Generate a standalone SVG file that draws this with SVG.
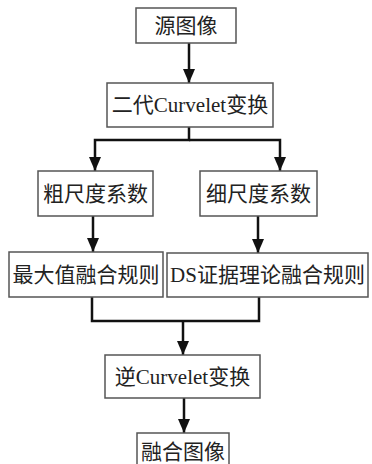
<svg xmlns="http://www.w3.org/2000/svg" width="372" height="464" viewBox="0 0 372 464">
<defs>
<style>
.box{fill:#fff;stroke:#555;stroke-width:1.5}
.t{font-family:"Liberation Serif","Noto Sans CJK SC",serif;font-size:21px;fill:#222;text-anchor:middle;dominant-baseline:central}
.ln{fill:none;stroke:#111;stroke-width:2.5}
</style>
<marker id="ah" viewBox="0 0 10 10" refX="10" refY="5" markerWidth="5" markerHeight="5.5" markerUnits="userSpaceOnUse" orient="auto">
<path d="M0,0 L10,5 L0,10 Z" fill="#111"/>
</marker>
<marker id="a" viewBox="0 0 14 12" refX="14" refY="6" markerWidth="14" markerHeight="12" markerUnits="userSpaceOnUse" orient="auto">
<path d="M0,0 L14,6 L0,12 Z" fill="#111"/>
</marker>
</defs>
<rect width="372" height="464" fill="#fff"/>
<g id="connectors">
<path class="ln" d="M189,43 V83" marker-end="url(#a)"/>
<path class="ln" d="M189,127 V140 H95 V171" marker-end="url(#a)"/>
<path class="ln" d="M189,140 H280 V171" marker-end="url(#a)"/>
<path class="ln" d="M93,216 V252" marker-end="url(#a)"/>
<path class="ln" d="M258,216 V253" marker-end="url(#a)"/>
<path class="ln" d="M92,297 V321 H259 V297"/>
<path class="ln" d="M183,321 V355" marker-end="url(#a)"/>
<path class="ln" d="M184,398 V433" marker-end="url(#a)"/>
</g>
<g id="n1"><rect class="box" x="136" y="8" width="100" height="35"/><text class="t" x="186" y="26">源图像</text></g>
<g id="n2"><rect class="box" x="107" y="83" width="166" height="44"/><text class="t" x="190" y="105">二代Curvelet变换</text></g>
<g id="n3"><rect class="box" x="38" y="171" width="115" height="45"/><text class="t" x="95.5" y="193.5">粗尺度系数</text></g>
<g id="n4"><rect class="box" x="200" y="171" width="117" height="45"/><text class="t" x="258.5" y="193.5">细尺度系数</text></g>
<g id="n5"><rect class="box" x="9" y="252" width="154" height="45"/><text class="t" x="86" y="274.5">最大值融合规则</text></g>
<g id="n6"><rect class="box" x="167" y="253" width="201" height="44"/><text class="t" x="267.5" y="275">DS证据理论融合规则</text></g>
<g id="n7"><rect class="box" x="105" y="355" width="155" height="43"/><text class="t" x="182.5" y="376.5">逆Curvelet变换</text></g>
<g id="n8"><rect class="box" x="137" y="433" width="92" height="40"/><text class="t" x="183" y="452">融合图像</text></g>
</svg>
